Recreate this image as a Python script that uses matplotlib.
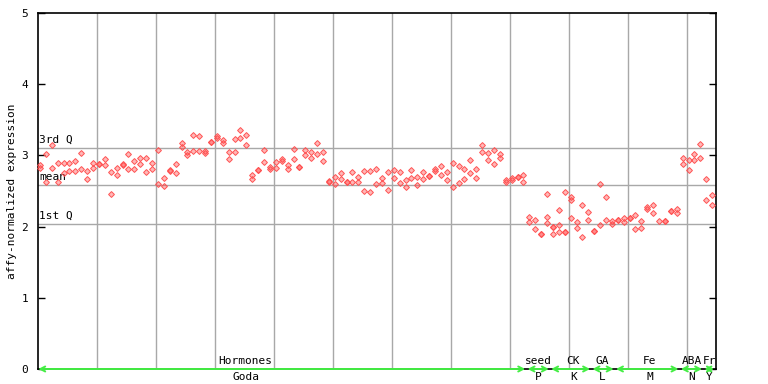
import matplotlib
matplotlib.use("Agg")
import matplotlib.pyplot as plt

# ---------------- data ----------------
goda_values = [
    [2.865, 2.83], [3.015, 2.63], [3.146, 2.83], [2.90, 2.63], [2.90, 2.75],
    [2.90, 2.785], [2.915, 2.785], [3.03, 2.805], [2.775, 2.67], [2.90, 2.83],
    [2.885, 2.885], [2.945, 2.86], [2.77, 2.46], [2.83, 2.725], [2.88, 2.87],
    [3.02, 2.81], [2.925, 2.81], [2.96, 2.875], [2.96, 2.77], [2.90, 2.81],
    [3.076, 2.60], [2.68, 2.57], [2.79, 2.78], [2.875, 2.75], [3.17, 3.12],
    [3.05, 3.01], [3.28, 3.06], [3.27, 3.065], [3.06, 3.04], [3.19, 3.19],
    [3.27, 3.24], [3.22, 3.18], [3.05, 2.95], [3.225, 3.05], [3.36, 3.25],
    [3.28, 3.14], [2.725, 2.665], [2.795, 2.795], [3.07, 2.91], [2.84, 2.81],
    [2.91, 2.82], [2.95, 2.915], [2.865, 2.81], [3.085, 2.945], [2.84, 2.84],
    [3.076, 3.0], [3.05, 2.97], [3.17, 3.02], [3.05, 2.915], [2.635, 2.63],
    [2.69, 2.60], [2.75, 2.67], [2.63, 2.63], [2.77, 2.63], [2.69, 2.63],
    [2.785, 2.50], [2.785, 2.49], [2.805, 2.595], [2.68, 2.61], [2.76, 2.51],
    [2.795, 2.68], [2.76, 2.61], [2.65, 2.55], [2.79, 2.68], [2.69, 2.58],
    [2.77, 2.665], [2.715, 2.715], [2.805, 2.78], [2.845, 2.725], [2.76, 2.65],
    [2.90, 2.55], [2.845, 2.61], [2.805, 2.665], [2.93, 2.75], [2.805, 2.68],
    [3.146, 3.05], [3.03, 2.93], [3.076, 2.875], [3.015, 2.97], [2.65, 2.62],
    [2.68, 2.65], [2.69, 2.70], [2.72, 2.62],
]
seed_values = [[2.13, 2.06], [2.09, 1.97], [1.90, 1.90], [2.46, 2.13, 2.045]]
ck_values = [[2.00, 2.00, 1.89], [2.23, 2.02, 1.93], [2.48, 1.93, 1.93],
             [2.42, 2.38, 2.115], [2.06, 1.975], [2.30, 1.86], [2.205, 2.09]]
ga_values = [[1.94, 1.94], [2.60, 2.02], [2.41, 2.09], [2.08, 2.03]]
fe_values = [[2.09, 2.09], [2.115, 2.06], [2.12, 2.12], [2.16, 1.96],
             [2.075, 1.975], [2.28, 2.25], [2.30, 2.185], [2.08],
             [2.08, 2.08], [2.22, 2.22], [2.25, 2.185]]
aba_values = [[2.97, 2.875], [2.93, 2.79], [3.015, 2.93], [3.16, 2.96]]
fr_values = [[2.665, 2.37], [2.44, 2.31]]

groups = [goda_values, seed_values, ck_values, ga_values, fe_values,
          aba_values, fr_values]
upper_labels = ["Hormones", "seed", "CK", "GA", "Fe", "ABA", "Fr"]
lower_labels = ["Goda", "P", "K", "L", "M", "N", "Y"]
# where the reference places each group label (sample-index units)
label_x = [35.2, 84.8, 90.8, 95.7, 103.7, 110.9, 113.9]

q3_value = 3.10
mean_value = 2.58
q1_value = 2.035

y_ticks = [0, 1, 2, 3, 4, 5]

# ---------------- figure ----------------
W, H = 768, 384
FONT = "DejaVu Sans Mono"
fig = plt.figure(figsize=(W / 100, H / 100), dpi=100)
ax = fig.add_axes([38 / W, 15 / H, 678 / W, 356 / H])

n_samples = sum(len(g) for g in groups)
ax.set_xlim(0, n_samples)
ax.set_ylim(0, 5)

# vertical grid
ax.set_xticks(range(10, n_samples, 10))
ax.tick_params(axis="x", length=0, labelbottom=False)
ax.grid(axis="x", color="#a8a8a8", lw=1, zorder=1)

# y ticks (inward on both sides)
ax.set_yticks(y_ticks)
ax.set_yticklabels([str(t) for t in y_ticks], fontfamily=FONT, fontsize=8)
ax.tick_params(axis="y", direction="in", length=5, width=1, pad=7,
               right=True, colors="black")
for s in ax.spines.values():
    s.set_color("black")
    s.set_linewidth(1.2)

# quartile lines
for val, lab in [(q3_value, "3rd Q"), (mean_value, "mean"), (q1_value, "1st Q")]:
    ax.axhline(val, color="#a8a8a8", lw=1, zorder=1)
    ax.annotate(lab, xy=(0, val), xytext=(1, 2.5), textcoords="offset points",
                fontfamily=FONT, fontsize=8, ha="left", va="bottom", zorder=3)

# points
xs, ys = [], []
idx = 0
spans = []
for g in groups:
    start = idx
    for vals in g:
        for v in vals:
            xs.append(idx + 0.34)
            ys.append(v)
        idx += 1
    spans.append((start + 0.34, idx - 1 + 0.34))

ax.plot(xs, ys, ls="none", marker="D", ms=3.0,
        mfc=(1.0, 0.3, 0.3, 0.4), mec=(1.0, 0.3, 0.3, 0.95), mew=0.7,
        zorder=4, clip_on=False)

# group arrows and labels
for (x0, x1), xc, up, lo in zip(spans, label_x, upper_labels, lower_labels):
    ax.annotate("", xy=(x1 + 0.3, 0), xytext=(x0 - 0.3, 0),
                arrowprops=dict(arrowstyle="<->,head_length=0.35,head_width=0.18",
                                color="#44ee44", lw=1.4, shrinkA=0, shrinkB=0),
                annotation_clip=False, zorder=5)
    ax.annotate(up, xy=(xc, 0), xytext=(0, 2.5), textcoords="offset points",
                ha="center", va="bottom", fontfamily=FONT, fontsize=8,
                annotation_clip=False)
    ax.annotate(lo, xy=(xc, 0), xytext=(0, -2.5), textcoords="offset points",
                ha="center", va="top", fontfamily=FONT, fontsize=8,
                annotation_clip=False)

fig.text(12 / W, 193 / H, "affy-normalized expression", rotation=90,
         ha="center", va="center", fontfamily=FONT, fontsize=8)

fig.savefig("out.png", dpi=100)
